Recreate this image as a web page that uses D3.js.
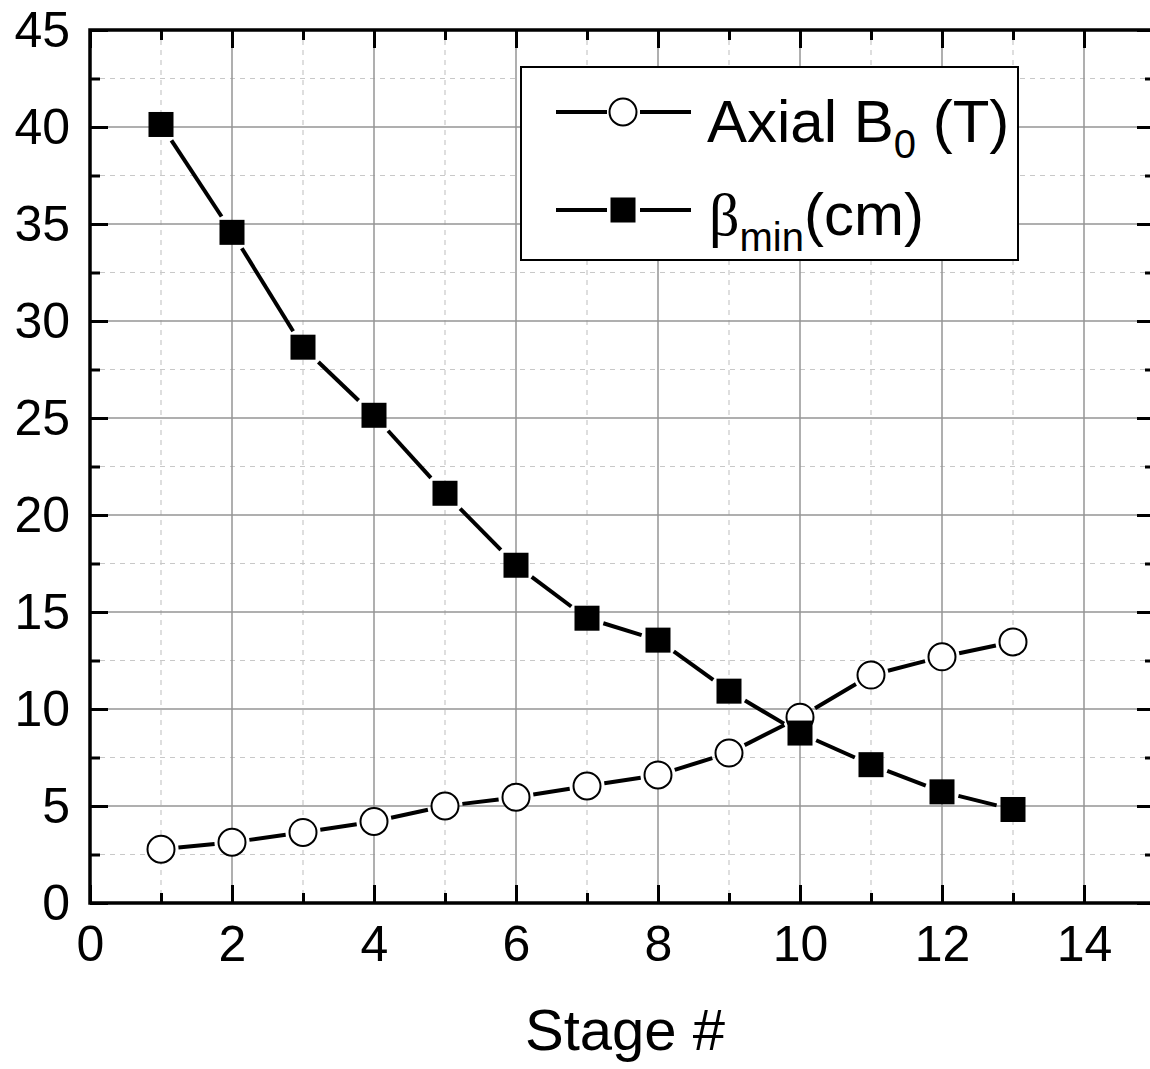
<!DOCTYPE html>
<html>
<head>
<meta charset="utf-8">
<script src="https://cdn.jsdelivr.net/npm/d3@7"></script>
<style>
  body { margin: 0; background: #fff; }
  svg { display: block; font-family: "Liberation Sans", Arial, sans-serif; }
</style>
</head>
<body>
<div class="chart"></div>
<script>
// data
let stages = [1, 2, 3, 4, 5, 6, 7, 8, 9, 10, 11, 12, 13];
let axialB0 = [2.77, 3.13, 3.64, 4.2, 5.0, 5.45, 6.03, 6.6, 7.73, 9.58, 11.75, 12.69, 13.46];
let betaMin = [40.13, 34.57, 28.65, 25.14, 21.12, 17.41, 14.68, 13.55, 10.92, 8.76, 7.13, 5.73, 4.82];
let xMajorTicks = [0, 2, 4, 6, 8, 10, 12, 14];
let xMinorTicks = [1, 3, 5, 7, 9, 11, 13];
let yMajorTicks = [0, 5, 10, 15, 20, 25, 30, 35, 40, 45];
let yMinorTicks = [2.5, 7.5, 12.5, 17.5, 22.5, 27.5, 32.5, 37.5, 42.5];

let svgWidth = 1150;
let svgHeight = 1069;
let margin = { top: 30, left: 90, right: -5, bottom: 166 };
let width = svgWidth - margin.left - margin.right;
let height = svgHeight - margin.top - margin.bottom;

let svg = d3.select(".chart")
    .append("svg")
    .attr("width", svgWidth)
    .attr("height", svgHeight);

let chartgroup = svg.append("g")
    .attr("transform", `translate(${margin.left}, ${margin.top})`);

let xScale = d3.scaleLinear().domain([0, 15]).range([0, width]);
let yScale = d3.scaleLinear().domain([0, 45]).range([height, 0]);

// grid
let grid = chartgroup.append("g");
grid.selectAll(".xminor").data(xMinorTicks).enter().append("line")
    .attr("x1", d => xScale(d)).attr("x2", d => xScale(d))
    .attr("y1", 0).attr("y2", height)
    .attr("stroke", "#c8c8c8").attr("stroke-width", 1.2).attr("stroke-dasharray", "5,5");
grid.selectAll(".yminor").data(yMinorTicks).enter().append("line")
    .attr("y1", d => yScale(d)).attr("y2", d => yScale(d))
    .attr("x1", 0).attr("x2", width)
    .attr("stroke", "#c8c8c8").attr("stroke-width", 1.2).attr("stroke-dasharray", "5,5");
grid.selectAll(".xmajor").data(xMajorTicks.filter(d => d > 0)).enter().append("line")
    .attr("x1", d => xScale(d)).attr("x2", d => xScale(d))
    .attr("y1", 0).attr("y2", height)
    .attr("stroke", "#959595").attr("stroke-width", 1.5);
grid.selectAll(".ymajor").data(yMajorTicks.filter(d => d > 0 && d < 45)).enter().append("line")
    .attr("y1", d => yScale(d)).attr("y2", d => yScale(d))
    .attr("x1", 0).attr("x2", width)
    .attr("stroke", "#959595").attr("stroke-width", 1.5);

// axes, ticks point inward
function styleAxis(g) {
    g.select(".domain").remove();
    g.selectAll(".tick line").attr("stroke", "#000").attr("stroke-width", 3);
    g.selectAll("text").attr("fill", "#000").style("font-size", "50px")
        .style("font-family", "'Liberation Sans', Arial, sans-serif");
}

chartgroup.append("g")
    .attr("transform", `translate(0, ${height})`)
    .call(d3.axisBottom(xScale).tickValues(xMajorTicks).tickSize(-18).tickPadding(22).tickFormat(d3.format("d")))
    .call(styleAxis);
chartgroup.append("g")
    .attr("transform", `translate(0, ${height})`)
    .call(d3.axisBottom(xScale).tickValues(xMinorTicks).tickSize(-10).tickFormat(""))
    .call(styleAxis);
chartgroup.append("g")
    .call(d3.axisTop(xScale).tickValues(xMajorTicks).tickSize(-18).tickFormat(""))
    .call(styleAxis);
chartgroup.append("g")
    .call(d3.axisTop(xScale).tickValues(xMinorTicks).tickSize(-10).tickFormat(""))
    .call(styleAxis);

chartgroup.append("g")
    .call(d3.axisLeft(yScale).tickValues(yMajorTicks).tickSize(-18).tickPadding(20).tickFormat(d3.format("d")))
    .call(styleAxis);
chartgroup.append("g")
    .call(d3.axisLeft(yScale).tickValues(yMinorTicks).tickSize(-10).tickFormat(""))
    .call(styleAxis);
chartgroup.append("g")
    .attr("transform", `translate(${width}, 0)`)
    .call(d3.axisRight(yScale).tickValues(yMajorTicks).tickSize(-18).tickFormat(""))
    .call(styleAxis);
chartgroup.append("g")
    .attr("transform", `translate(${width}, 0)`)
    .call(d3.axisRight(yScale).tickValues(yMinorTicks).tickSize(-10).tickFormat(""))
    .call(styleAxis);

chartgroup.append("rect")
    .attr("x", 0).attr("y", 0)
    .attr("width", width).attr("height", height)
    .attr("fill", "none").attr("stroke", "#000").attr("stroke-width", 3.5);

// line segments with a gap round each marker
let circleR = 13.5;
let squareHalf = 12.5;
let gap = 4;

function drawSegments(values, edgeDist) {
    let pts = stages.map((s, i) => [xScale(s), yScale(values[i])]);
    let segs = [];
    for (let i = 0; i < pts.length - 1; i++) {
        let [x1, y1] = pts[i];
        let [x2, y2] = pts[i + 1];
        let len = Math.hypot(x2 - x1, y2 - y1);
        let ux = (x2 - x1) / len, uy = (y2 - y1) / len;
        let cut = edgeDist(ux, uy) + gap;
        segs.push([x1 + ux * cut, y1 + uy * cut, x2 - ux * cut, y2 - uy * cut]);
    }
    chartgroup.append("g").selectAll("line").data(segs).enter().append("line")
        .attr("x1", d => d[0]).attr("y1", d => d[1])
        .attr("x2", d => d[2]).attr("y2", d => d[3])
        .attr("stroke", "#000").attr("stroke-width", 4);
}

drawSegments(axialB0, () => circleR);
drawSegments(betaMin, (ux, uy) => squareHalf / Math.max(Math.abs(ux), Math.abs(uy)));

chartgroup.append("g").selectAll("circle")
    .data(stages).enter().append("circle")
    .attr("cx", (d) => xScale(d))
    .attr("cy", (d, i) => yScale(axialB0[i]))
    .attr("r", circleR)
    .attr("fill", "#fff").attr("stroke", "#000").attr("stroke-width", 2);

chartgroup.append("g").selectAll("rect")
    .data(stages).enter().append("rect")
    .attr("x", (d) => xScale(d) - squareHalf)
    .attr("y", (d, i) => yScale(betaMin[i]) - squareHalf)
    .attr("width", squareHalf * 2).attr("height", squareHalf * 2)
    .attr("fill", "#000");

// legend
let legend = svg.append("g");
legend.append("rect")
    .attr("x", 521).attr("y", 67)
    .attr("width", 497).attr("height", 193)
    .attr("fill", "#fff").attr("stroke", "#000").attr("stroke-width", 2);

legend.append("line").attr("x1", 556).attr("x2", 607).attr("y1", 112).attr("y2", 112)
    .attr("stroke", "#000").attr("stroke-width", 4);
legend.append("line").attr("x1", 640).attr("x2", 691).attr("y1", 112).attr("y2", 112)
    .attr("stroke", "#000").attr("stroke-width", 4);
legend.append("circle").attr("cx", 623).attr("cy", 112).attr("r", circleR)
    .attr("fill", "#fff").attr("stroke", "#000").attr("stroke-width", 2);

legend.append("line").attr("x1", 556).attr("x2", 607).attr("y1", 210).attr("y2", 210)
    .attr("stroke", "#000").attr("stroke-width", 4);
legend.append("line").attr("x1", 640).attr("x2", 691).attr("y1", 210).attr("y2", 210)
    .attr("stroke", "#000").attr("stroke-width", 4);
legend.append("rect").attr("x", 623 - squareHalf).attr("y", 210 - squareHalf)
    .attr("width", squareHalf * 2).attr("height", squareHalf * 2).attr("fill", "#000");

let t1 = legend.append("text").attr("x", 707).attr("y", 142)
    .style("font-size", "60px").attr("fill", "#000");
t1.append("tspan").text("Axial B");
t1.append("tspan").attr("dy", 16).style("font-size", "40px").text("0");
t1.append("tspan").attr("dy", -16).text(" (T)");

let t2 = legend.append("text").attr("x", 709).attr("y", 235)
    .style("font-size", "60px").attr("fill", "#000");
t2.append("tspan").style("font-family", "'Liberation Serif', 'Times New Roman', serif").text("β");
t2.append("tspan").attr("dy", 16).style("font-size", "40px").text("min");
t2.append("tspan").attr("dy", -16).text("(cm)");

// axis title
svg.append("text")
    .attr("x", 625).attr("y", 1050)
    .attr("text-anchor", "middle")
    .style("font-size", "58px")
    .attr("fill", "#000")
    .text("Stage #");
</script>
</body>
</html>
